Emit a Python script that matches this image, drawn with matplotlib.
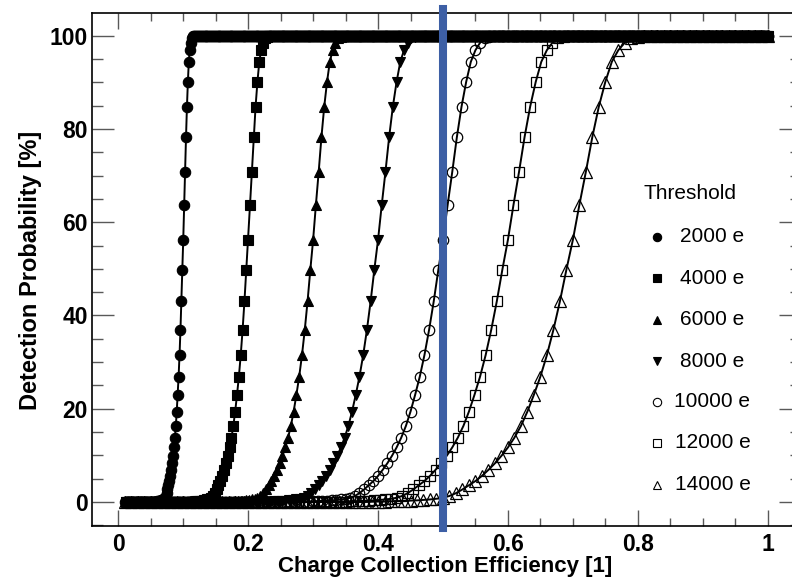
import numpy as np
import matplotlib
matplotlib.use("Agg")
import matplotlib.pyplot as plt
from matplotlib.ticker import MultipleLocator

plt.rcParams['font.family'] = ['Liberation Sans', 'DejaVu Sans']

# thresholds of the scan and their legend labels
thresholds = [2000, 4000, 6000, 8000, 10000, 12000, 14000]
labels = ["2000 e", "4000 e", "6000 e", "8000 e", "10000 e", "12000 e", "14000 e"]

# efficiency scan: spacing of the points, first and last point index
scan_step = [0.001429, 0.002857, 0.004286, 0.005714, 0.007143, 0.008571, 0.01]
scan_first = [7, 4, 3, 2, 2, 2, 1]
scan_last = [700, 350, 233, 175, 140, 116, 100]

# detection probability [%] from scan index 39 to 80 (0 before, 100 after)
rise_start = 39
rise = [0.05, 0.1, 0.1, 0.15, 0.2, 0.25, 0.3, 0.35, 0.45, 0.55,
        0.7, 0.9, 1.3, 1.9, 2.7, 3.6, 4.5, 5.6, 6.9, 8.3,
        9.9, 11.7, 13.8, 16.3, 19.4, 23.0, 26.9, 31.5, 36.9, 43.0,
        49.8, 56.2, 63.7, 70.8, 78.3, 84.8, 90.1, 94.4, 96.9, 98.5,
        99.4, 99.8]

markers = ['o', 's', '^', 'v', 'o', 's', '^']
filled = [True, True, True, True, False, False, False]
msizes = [7.5, 6.5, 7.5, 7.5, 7.5, 7.0, 8.0]

fig = plt.figure(figsize=(7.92, 5.84), dpi=100)
ax = fig.add_axes([92.3/792, 58.3/584, 708.7/792, 512.4/584])

def series(k):
    idx = np.arange(scan_first[k], scan_last[k] + 1)
    x = idx * scan_step[k]
    rise_end = rise_start + len(rise) - 1
    y = [0.0] * (rise_start - scan_first[k]) + rise + [100.0] * (scan_last[k] - rise_end)
    return x, np.array(y)

# open markers first so the filled rows sit on top
for k in reversed(range(len(thresholds))):
    x, y = series(k)
    if filled[k]:
        ax.plot(x, y, ls='none', marker=markers[k], ms=msizes[k], mfc='k', mec='k',
                mew=0.8, zorder=3)
    else:
        ax.plot(x, y, ls='none', marker=markers[k], ms=msizes[k], mfc='none', mec='k',
                mew=0.9, zorder=2)
for k in range(len(thresholds)):
    x, y = series(k)
    ax.plot(x, y, color='k', lw=1.4, zorder=4)

# marker at CCE = 0.5
ax.axvline(0.5, ymin=-0.005, ymax=1.008, color='#3d5fa5', lw=5.8, zorder=6, clip_on=False)

ax.set_xlim(-0.040, 1.0513)
ax.set_ylim(-5.08, 104.8)

ax.xaxis.set_major_locator(MultipleLocator(0.2))
ax.xaxis.set_minor_locator(MultipleLocator(0.05))
ax.yaxis.set_major_locator(MultipleLocator(20))
ax.yaxis.set_minor_locator(MultipleLocator(5))
ax.tick_params(axis='both', which='both', direction='in', top=True, right=True,
               color='0.35', width=1.0)
ax.tick_params(axis='x', which='major', length=11.3, pad=5.0)
ax.tick_params(axis='x', which='minor', length=5.8)
ax.tick_params(axis='y', which='major', length=15.6, pad=3.3)
ax.tick_params(axis='y', which='minor', length=7.9)
ax.set_xticks([0, 0.2, 0.4, 0.6, 0.8, 1.0])
ax.set_xticklabels(['0', '0.2', '0.4', '0.6', '0.8', '1'])
for lab in ax.get_xticklabels() + ax.get_yticklabels():
    lab.set_fontsize(16.5)
    lab.set_fontweight('bold')
for sp in ax.spines.values():
    sp.set_linewidth(1.2)

ax.set_xlabel("Charge Collection Efficiency [1]", fontsize=16, fontweight='bold', va='center')
ax.xaxis.set_label_coords(0.4977, -0.0787)
ax.set_ylabel("Detection Probability [%]", fontsize=17, fontweight='bold', va='center')
ax.yaxis.set_label_coords(-0.0865, 0.499)

# legend, text centred like the original
ax.text(0.8434, 0.6487, "Threshold", transform=ax.transAxes, fontsize=15,
        ha='center', va='center')
row_y = [0.5640, 0.4834, 0.4015, 0.3214, 0.2420, 0.1614, 0.0795]
for k in range(len(thresholds)):
    face = 'k' if filled[k] else 'none'
    ax.plot([0.7964], [row_y[k]], transform=ax.transAxes, ls='none', marker=markers[k],
            ms=msizes[k] * 0.8, mfc=face, mec='k', mew=0.8, clip_on=False)
    ax.text(0.8751, row_y[k], labels[k], transform=ax.transAxes, fontsize=15,
            ha='center', va='center')

fig.savefig("out.png", dpi=100)
